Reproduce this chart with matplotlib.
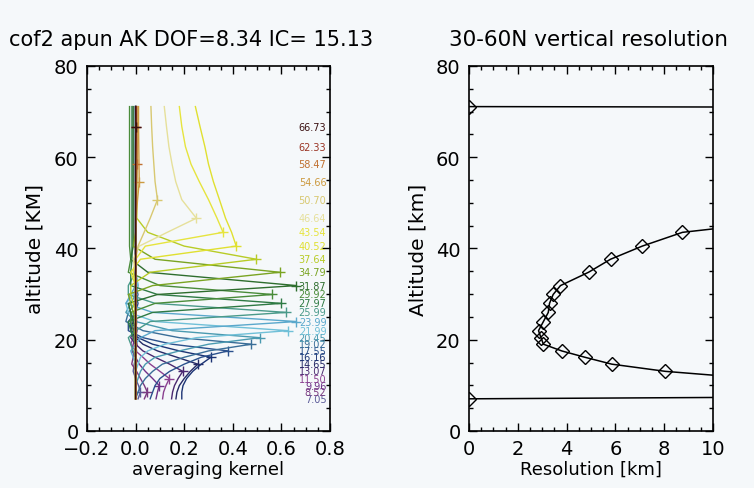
import numpy as np
import matplotlib
matplotlib.use("Agg")
import matplotlib.pyplot as plt
from matplotlib.ticker import MultipleLocator, FuncFormatter

# retrieval grid (km)
altitude = [7.05, 8.52, 9.96, 11.50, 13.07, 14.65, 16.16, 17.55, 19.02, 20.45,
            21.99, 23.99, 25.99, 27.97, 29.92, 31.87, 34.79, 37.64, 40.52, 43.54,
            46.64, 50.70, 54.66, 58.47, 62.33, 66.73, 71.10]

# averaging kernel rows, one per labelled level, values at every grid level
avk = [
    [0.010, 0.020, 0.012, 0.000, -0.010, -0.006, 0.000, 0.004, 0.000, -0.004, 0.000, 0.000, 0.000, 0.000, 0.000, 0.000, 0.000, 0.000, 0.000, 0.000, 0.000, 0.000, 0.000, 0.000, 0.000, 0.000, 0.000],
    [0.036, 0.048, 0.036, 0.020, 0.004, -0.016, -0.010, 0.000, 0.006, 0.000, -0.004, 0.000, 0.000, 0.000, 0.000, 0.000, 0.000, 0.000, 0.000, 0.000, 0.000, 0.000, 0.000, 0.000, 0.000, 0.000, 0.000],
    [0.084, 0.090, 0.097, 0.070, 0.040, 0.015, 0.000, -0.015, -0.010, 0.000, 0.006, 0.000, 0.000, 0.000, 0.000, 0.000, 0.000, 0.000, 0.000, 0.000, 0.000, 0.000, 0.000, 0.000, 0.000, 0.000, 0.000],
    [0.111, 0.115, 0.125, 0.139, 0.100, 0.060, 0.030, 0.000, -0.020, -0.010, 0.000, 0.005, 0.000, 0.000, 0.000, 0.000, 0.000, 0.000, 0.000, 0.000, 0.000, 0.000, 0.000, 0.000, 0.000, 0.000, 0.000],
    [0.148, 0.152, 0.160, 0.175, 0.194, 0.140, 0.080, 0.030, 0.000, -0.020, -0.010, 0.000, 0.000, 0.000, 0.000, 0.000, 0.000, 0.000, 0.000, 0.000, 0.000, 0.000, 0.000, 0.000, 0.000, 0.000, 0.000],
    [0.166, 0.170, 0.180, 0.200, 0.225, 0.256, 0.170, 0.090, 0.030, 0.000, -0.020, -0.010, 0.000, 0.000, 0.000, 0.000, 0.000, 0.000, 0.000, 0.000, 0.000, 0.000, 0.000, 0.000, 0.000, 0.000, 0.000],
    [0.190, 0.190, 0.195, 0.210, 0.235, 0.270, 0.310, 0.180, 0.070, 0.010, -0.020, -0.020, 0.000, 0.000, 0.000, 0.000, 0.000, 0.000, 0.000, 0.000, 0.000, 0.000, 0.000, 0.000, 0.000, 0.000, 0.000],
    [0.060, 0.070, 0.080, 0.100, 0.140, 0.200, 0.270, 0.380, 0.150, 0.030, -0.030, -0.030, 0.000, 0.010, 0.000, 0.000, 0.000, 0.000, 0.000, 0.000, 0.000, 0.000, 0.000, 0.000, 0.000, 0.000, 0.000],
    [0.000, 0.010, 0.020, 0.040, 0.070, 0.110, 0.200, 0.300, 0.476, 0.180, 0.030, -0.040, -0.030, 0.000, 0.010, 0.000, 0.000, 0.000, 0.000, 0.000, 0.000, 0.000, 0.000, 0.000, 0.000, 0.000, 0.000],
    [0.000, 0.000, 0.000, 0.010, 0.020, 0.040, 0.080, 0.180, 0.300, 0.511, 0.150, 0.000, -0.040, -0.020, 0.000, 0.010, 0.000, 0.000, 0.000, 0.000, 0.000, 0.000, 0.000, 0.000, 0.000, 0.000, 0.000],
    [0.000, 0.000, 0.000, 0.000, 0.000, 0.010, 0.020, 0.050, 0.120, 0.250, 0.627, 0.080, -0.030, -0.040, -0.010, 0.010, 0.000, 0.000, 0.000, 0.000, 0.000, 0.000, 0.000, 0.000, 0.000, 0.000, 0.000],
    [0.000, 0.000, 0.000, 0.000, 0.000, 0.000, -0.010, -0.020, 0.000, 0.020, 0.080, 0.662, 0.070, -0.040, -0.020, 0.000, 0.000, 0.000, 0.000, 0.000, 0.000, 0.000, 0.000, 0.000, 0.000, 0.000, 0.000],
    [0.000, 0.000, 0.000, 0.000, 0.000, 0.000, 0.000, -0.010, -0.020, -0.030, 0.000, 0.060, 0.620, 0.080, -0.030, -0.030, 0.000, 0.000, 0.000, 0.000, 0.000, 0.000, 0.000, 0.000, 0.000, 0.000, 0.000],
    [0.000, 0.000, 0.000, 0.000, 0.000, 0.000, 0.000, 0.000, 0.000, -0.010, -0.020, -0.030, 0.070, 0.600, 0.090, -0.020, -0.020, -0.015, -0.015, -0.015, -0.015, -0.015, -0.015, -0.015, -0.015, -0.015, -0.015],
    [0.000, 0.000, 0.000, 0.000, 0.000, 0.000, 0.000, 0.000, 0.000, 0.000, -0.010, -0.020, -0.020, 0.080, 0.563, 0.100, -0.030, -0.020, -0.025, -0.025, -0.025, -0.025, -0.025, -0.025, -0.025, -0.025, -0.025],
    [0.000, 0.000, 0.000, 0.000, 0.000, 0.000, 0.000, 0.000, 0.000, 0.000, 0.000, -0.010, -0.020, -0.030, 0.090, 0.662, 0.050, -0.020, -0.010, -0.010, -0.010, -0.010, -0.010, -0.010, -0.010, -0.010, -0.010],
    [0.000, 0.000, 0.000, 0.000, 0.000, 0.000, 0.000, 0.000, 0.000, 0.000, 0.000, 0.000, -0.010, -0.020, -0.030, 0.070, 0.593, 0.080, -0.010, 0.000, 0.000, 0.000, 0.000, 0.000, 0.000, 0.000, 0.000],
    [0.000, 0.000, 0.000, 0.000, 0.000, 0.000, 0.000, 0.000, 0.000, 0.000, 0.000, 0.000, 0.000, -0.010, -0.020, -0.020, 0.060, 0.497, 0.200, 0.050, 0.005, 0.005, 0.005, 0.005, 0.005, 0.005, 0.005],
    [0.000, 0.000, 0.000, 0.000, 0.000, 0.000, 0.000, 0.000, 0.000, 0.000, 0.000, 0.000, 0.000, 0.000, 0.000, 0.000, -0.020, 0.020, 0.414, 0.395, 0.370, 0.345, 0.320, 0.300, 0.285, 0.265, 0.246],
    [0.000, 0.000, 0.000, 0.000, 0.000, 0.000, 0.000, 0.000, 0.000, 0.000, 0.000, 0.000, 0.000, 0.000, 0.000, 0.000, -0.010, 0.000, 0.040, 0.360, 0.335, 0.300, 0.262, 0.228, 0.205, 0.190, 0.180],
    [0.000, 0.000, 0.000, 0.000, 0.000, 0.000, 0.000, 0.000, 0.000, 0.000, 0.000, 0.000, 0.000, 0.000, 0.000, 0.000, 0.000, -0.010, 0.015, 0.130, 0.250, 0.190, 0.165, 0.150, 0.137, 0.127, 0.118],
    [0.000, 0.000, 0.000, 0.000, 0.000, 0.000, 0.000, 0.000, 0.000, 0.000, 0.000, 0.000, 0.000, 0.000, 0.000, 0.000, 0.000, 0.000, 0.010, 0.035, 0.060, 0.090, 0.080, 0.075, 0.070, 0.066, 0.063],
    [0.000, 0.000, 0.000, 0.000, 0.000, 0.000, 0.000, 0.000, 0.000, 0.000, 0.000, 0.000, 0.000, 0.000, 0.000, 0.000, 0.000, 0.000, 0.000, 0.000, 0.002, 0.008, 0.015, 0.014, 0.013, 0.012, 0.012],
    [0.000, 0.000, 0.000, 0.000, 0.000, 0.000, 0.000, 0.000, 0.000, 0.000, 0.000, 0.000, 0.000, 0.000, 0.000, 0.000, 0.000, 0.000, 0.000, 0.000, 0.000, 0.002, 0.004, 0.006, 0.006, 0.005, 0.005],
    [0.000, 0.000, 0.000, 0.000, 0.000, 0.000, 0.000, 0.000, 0.000, 0.000, 0.000, 0.000, 0.000, 0.000, 0.000, 0.000, 0.000, 0.000, 0.000, 0.000, 0.000, 0.000, 0.000, 0.000, 0.002, 0.003, 0.003],
    [0.000, 0.000, 0.000, 0.000, 0.000, 0.000, 0.000, 0.000, 0.000, 0.000, 0.000, 0.000, 0.000, 0.000, 0.000, 0.000, 0.000, 0.000, 0.000, 0.000, 0.000, 0.000, 0.000, 0.000, 0.000, 0.001, 0.000],
]

kernel_colors = ["#5a5a98", "#7a3a80", "#6e3088", "#8a4090", "#4a2870", "#262a66",
                 "#1c3474", "#2a508c", "#3a6e98", "#4a9ab0", "#70c0d8", "#5aa8cc",
                 "#4a9a8a", "#2e7a44", "#4a8c3a", "#2e6e2e", "#7aa422", "#b8cc26",
                 "#e0e030", "#e6e43e", "#e6e09a", "#d8c870", "#cc9a40", "#c07030",
                 "#9a3424", "#3a1010"]

# vertical resolution (km) at each grid level
resolution = [0.0, 50.0, 30.0, 11.7, 8.05, 5.85, 4.75, 3.8, 3.05, 2.95, 2.85, 3.05,
              3.25, 3.3, 3.45, 3.75, 4.9, 5.8, 7.1, 8.75, 13.9, 40.0, 100.0, 200.0,
              300.0, 500.0, 0.0]

bg = "#f5f8fa"
fig = plt.figure(figsize=(7.54, 4.89), dpi=100)
fig.patch.set_facecolor(bg)

ax1 = fig.add_axes([0.1154, 0.1166, 0.3223, 0.7464])
ax2 = fig.add_axes([0.622, 0.1166, 0.3236, 0.7464])


def idl_style(ax):
    ax.set_facecolor(bg)
    ax.tick_params(which="both", direction="in", top=True, right=True,
                   labelsize=14, pad=6)
    ax.tick_params(which="major", length=6, width=1)
    ax.tick_params(which="minor", length=3, width=1)
    for s in ax.spines.values():
        s.set_linewidth(1.2)


# ------------------- left: averaging kernels -------------------
for row, c in zip(avk, kernel_colors):
    ax1.plot(row, altitude, color=c, lw=1.0)
    k = int(np.argmax(row))
    ax1.plot(row[k], altitude[k], "+", color=c, ms=7, mew=1.0)

for z, c in zip(altitude[:len(avk)], kernel_colors):
    ax1.text(0.785, z, f"{z:.2f}", color=c, fontsize=7, ha="right", va="center")

ax1.set_xlim(-0.2, 0.8)
ax1.set_ylim(0, 80)
ax1.xaxis.set_major_locator(MultipleLocator(0.2))
ax1.xaxis.set_minor_locator(MultipleLocator(0.05))
ax1.xaxis.set_major_formatter(FuncFormatter(lambda v, _: f"{v:.1f}".replace("-", "\u2212")))
ax1.yaxis.set_major_locator(MultipleLocator(20))
ax1.yaxis.set_minor_locator(MultipleLocator(5))
idl_style(ax1)
ax1.set_xlabel("averaging kernel", fontsize=13, labelpad=1)
ax1.set_ylabel("altitude [KM]", fontsize=14.5)
ax1.yaxis.set_label_coords(-0.175, 0.5)
fig.text(0.253, 0.918, "cof2 apun AK DOF=8.34 IC= 15.13", fontsize=15,
         ha="center", va="center")

# ------------------- right: vertical resolution -------------------
ax2.plot(resolution, altitude, color="k", lw=1.1, marker="D", ms=7,
         mfc="none", mec="k", mew=1.0)
ax2.set_xlim(0, 10)
ax2.set_ylim(0, 80)
ax2.xaxis.set_major_locator(MultipleLocator(2))
ax2.xaxis.set_minor_locator(MultipleLocator(0.5))
ax2.yaxis.set_major_locator(MultipleLocator(20))
ax2.yaxis.set_minor_locator(MultipleLocator(5))
idl_style(ax2)
ax2.set_xlabel("Resolution [km]", fontsize=13, labelpad=1)
ax2.set_ylabel("Altitude [km]", fontsize=14.5)
ax2.yaxis.set_label_coords(-0.17, 0.5)
fig.text(0.781, 0.918, "30-60N vertical resolution", fontsize=15.5,
         ha="center", va="center")

fig.savefig("out.png", dpi=100, facecolor=bg)
